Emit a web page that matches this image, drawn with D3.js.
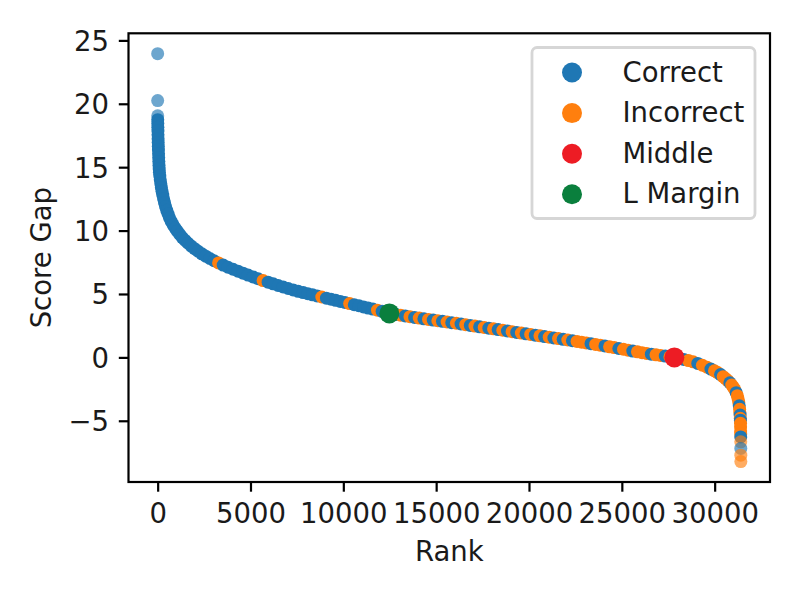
<!DOCTYPE html>
<html>
<head>
<meta charset="utf-8">
<script src="https://cdn.jsdelivr.net/npm/d3@7"></script>
<style>
  body { margin: 0; background: #fff; }
  text { font-family: "DejaVu Sans", sans-serif; fill: #1a1a1a; }
</style>
</head>
<body>
<svg id="chart" width="800" height="600"></svg>
<script>
// values, sorted by rank
var rank = [
  // steep head
  0, 1, 3, 5, 8, 11, 15, 19, 24, 29, 35, 41, 48, 56, 64, 73, 83, 95, 115, 140,
  170, 200, 235, 275, 320, 370, 425, 490, 560, 640, 730, 830, 940,
  // knee
  1060, 1190, 1330, 1480, 1640, 1810, 1990, 2180, 2380, 2590, 2810, 3040, 3280, 3530, 3790, 4060,
  4330, 4600, 4870, 5140, 5410, 5680, 5950, 6220, 6490, 6760, 7030, 7300, 7570,
  7840, 8090, 8340, 8590, 8840, 9090, 9340, 9590, 9840, 10090,
  10340, 10590, 10840, 11090, 11340, 11590, 11840, 12090, 12340, 12590,
  // flat middle
  12840, 13090, 13340, 13590, 13840, 14090, 14340, 14590, 14840, 15090,
  15340, 15590, 15840, 16090, 16340, 16590, 16840, 17090, 17340, 17590,
  17840, 18090, 18340, 18590, 18840, 19090, 19340, 19590, 19840, 20090,
  20340, 20590, 20840, 21090, 21340, 21590, 21840, 22090, 22340, 22590,
  22840, 23090, 23340, 23590, 23840, 24090, 24340, 24590, 24840, 25090,
  25340, 25590, 25840, 26090, 26340, 26590, 26840, 27090, 27340, 27590, 27840,
  // tail
  28090, 28340, 28590, 28840, 29090, 29340, 29590, 29800, 29990, 30160,
  30320, 30460, 30590, 30710, 30820, 30920, 31010, 31090, 31160, 31220,
  31265, 31300, 31325, 31345, 31360, 31372, 31381, 31388, 31393, 31397,
  31400, 31402, 31404, 31406, 31408, 31409, 31410
];
var gap = [
  23.95, 20.25, 19.05, 18.75, 18.45, 18.15, 17.85, 17.55, 17.25, 16.95, 16.65, 16.35, 16.05, 15.75, 15.45, 15.15, 14.85, 14.6, 14.3, 14.0,
  13.7, 13.4, 13.1, 12.8, 12.5, 12.2, 11.9, 11.6, 11.3, 11.0, 10.72, 10.45, 10.2,
  9.95, 9.7, 9.45, 9.22, 9.0, 8.78, 8.57, 8.37, 8.17, 7.98, 7.8, 7.62, 7.45, 7.28, 7.11, 6.95,
  6.8, 6.64, 6.49, 6.34, 6.2, 6.06, 5.93, 5.8, 5.67, 5.55, 5.43, 5.32, 5.21,
  5.11, 5.02, 4.93, 4.85, 4.76, 4.67, 4.59, 4.5, 4.41, 4.33,
  4.24, 4.15, 4.07, 3.98, 3.89, 3.81, 3.72, 3.63, 3.53, 3.45,
  3.39, 3.33, 3.27, 3.21, 3.15, 3.10, 3.04, 2.99, 2.94, 2.89,
  2.84, 2.79, 2.74, 2.69, 2.63, 2.58, 2.52, 2.47, 2.41, 2.36,
  2.30, 2.25, 2.19, 2.14, 2.08, 2.03, 1.97, 1.92, 1.86, 1.81,
  1.75, 1.70, 1.64, 1.59, 1.53, 1.48, 1.42, 1.37, 1.31, 1.26,
  1.20, 1.14, 1.08, 1.02, 0.96, 0.90, 0.83, 0.77, 0.70, 0.64,
  0.57, 0.50, 0.44, 0.37, 0.31, 0.25, 0.20, 0.15, 0.10, 0.05, 0.00,
  -0.08, -0.16, -0.25, -0.35, -0.48, -0.62, -0.78, -0.92, -1.06, -1.20,
  -1.36, -1.52, -1.68, -1.84, -2.00, -2.18, -2.36, -2.56, -2.78, -3.02,
  -3.28, -3.55, -3.82, -4.10, -4.35, -4.55, -4.80, -4.95, -5.20, -5.47,
  -5.80, -6.05, -6.27, -6.66, -7.18, -7.71, -8.22
];
// C = correct, I = incorrect, one letter per point
var outcome = (
  "CCCCCCCCCCCCCCCCCCCCCCCCCCCCCCCCC" +
  "CCCCCCCCCCCCICCC" +
  "CCCCCICCCCCCC" +
  "CCCCICCCCCICCCCCICCC" +
  "CICICICICICICICICICICICICICICICICICICICI" + "IICIICIICIICIIICIICII" +
  "ICIICIICIICIIICIIICIIICIICICIIIICICII"
).split("");

var middlePoint = [27830, 0.0];
var marginPoint = [12480, 3.47];

var xTicks = [0, 5000, 10000, 15000, 20000, 25000, 30000];
var yTicks = [-5, 0, 5, 10, 15, 20, 25];
var legendLabels = ["Correct", "Incorrect", "Middle", "L Margin"];
var legendColors = ["#1f77b4", "#ff7f0e", "#ed1c24", "#0a7f3d"];

var plotLeft = 128.5, plotRight = 770, plotTop = 33.3, plotBottom = 482;
var fontSize = 27.5;

var svg = d3.select("#chart");

// matplotlib style 5% margins around the data
var xExt = d3.extent(rank), yExt = d3.extent(gap);
var xPad = (xExt[1] - xExt[0]) * 0.05, yPad = (yExt[1] - yExt[0]) * 0.05;

var x = d3.scaleLinear()
  .domain([xExt[0] - xPad, xExt[1] + xPad])
  .range([plotLeft, plotRight]);
var y = d3.scaleLinear()
  .domain([yExt[0] - yPad, yExt[1] + yPad])
  .range([plotBottom, plotTop]);

var pts = rank.map(function(r, i) {
  return {rank: r, gap: gap[i], ok: outcome[i] === "C", px: x(r), py: y(gap[i])};
});
// thousands of overlapping markers make the band opaque; lone ones stay see-through
pts.forEach(function(d) {
  var n = pts.filter(function(o) {
    return o !== d && Math.hypot(o.px - d.px, o.py - d.py) < 5.5;
  }).length;
  d.alpha = n >= 2 ? 1 : 0.65;
});

svg.append("g")
  .selectAll("circle.pt")
  .data(pts)
  .join("circle")
  .attr("class", "pt")
  .attr("cx", function(d) { return d.px; })
  .attr("cy", function(d) { return d.py; })
  .attr("r", 6.5)
  .attr("fill", function(d) { return d.ok ? legendColors[0] : legendColors[1]; })
  .attr("fill-opacity", function(d) { return d.alpha; });

// the two highlighted points
svg.append("g")
  .selectAll("circle.special")
  .data([middlePoint, marginPoint])
  .join("circle")
  .attr("class", "special")
  .attr("cx", function(d) { return x(d[0]); })
  .attr("cy", function(d) { return y(d[1]); })
  .attr("r", 10)
  .attr("fill", function(d, i) { return i === 0 ? legendColors[2] : legendColors[3]; });

var minus = function(d) { return d < 0 ? "\u2212" + Math.abs(d) : String(d); };

var xAxis = svg.append("g")
  .attr("transform", "translate(0," + plotBottom + ")")
  .call(d3.axisBottom(x).tickValues(xTicks).tickFormat(d3.format("d")).tickSize(9.7).tickPadding(12));
var yAxis = svg.append("g")
  .attr("transform", "translate(" + plotLeft + ",0)")
  .call(d3.axisLeft(y).tickValues(yTicks).tickFormat(minus).tickSize(9.7).tickPadding(9.7));

[xAxis, yAxis].forEach(function(ax) {
  ax.select(".domain").remove();
  ax.selectAll(".tick line").attr("stroke", "#000").attr("stroke-width", 2.2);
  ax.selectAll(".tick text")
    .style("font-size", fontSize + "px")
    .attr("fill", "#1a1a1a");
});
yAxis.selectAll(".tick text").attr("dy", "0.36em");

// frame
svg.append("rect")
  .attr("x", plotLeft).attr("y", plotTop)
  .attr("width", plotRight - plotLeft).attr("height", plotBottom - plotTop)
  .attr("fill", "none")
  .attr("stroke", "#000")
  .attr("stroke-width", 2.2);

svg.append("text")
  .attr("x", (plotLeft + plotRight) / 2).attr("y", 561)
  .attr("text-anchor", "middle")
  .style("font-size", fontSize + "px")
  .text("Rank");

svg.append("text")
  .attr("transform", "translate(51," + (plotTop + plotBottom) / 2 + ") rotate(-90)")
  .attr("text-anchor", "middle")
  .style("font-size", fontSize + "px")
  .text("Score Gap");

// legend
var lg = svg.append("g");
lg.append("rect")
  .attr("x", 532).attr("y", 47.5)
  .attr("width", 223).attr("height", 171)
  .attr("rx", 5).attr("ry", 5)
  .attr("fill", "#fff").attr("fill-opacity", 0.8)
  .attr("stroke", "#d6d6d6").attr("stroke-width", 2.8);

var rows = lg.selectAll("g.row")
  .data(legendLabels)
  .join("g")
  .attr("class", "row")
  .attr("transform", function(d, i) { return "translate(0," + (72.5 + i * 40.6) + ")"; });
rows.append("circle")
  .attr("cx", 572).attr("cy", 0).attr("r", 10)
  .attr("fill", function(d, i) { return legendColors[i]; });
rows.append("text")
  .attr("x", 622.5).attr("y", 9)
  .style("font-size", fontSize + "px")
  .text(function(d) { return d; });
</script>
</body>
</html>
